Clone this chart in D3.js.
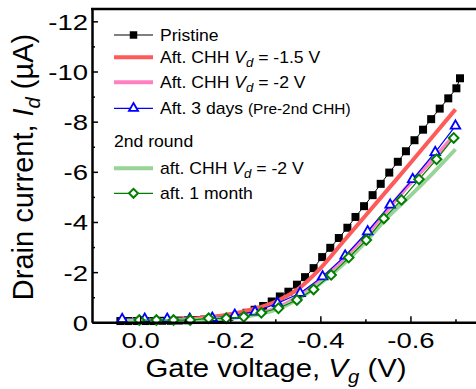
<!DOCTYPE html>
<html>
<head>
<meta charset="utf-8">
<script src="https://cdn.jsdelivr.net/npm/d3@7"></script>
<style>
  body { margin: 0; background: #fff; }
  svg { font-family: "Liberation Sans", Arial, sans-serif; }
</style>
</head>
<body>
<svg id="chart" width="476" height="389"></svg>
<script>
// gate voltage (V) and drain current (uA)
var pristineVg = [0.044, 0.026, 0.007, -0.012, -0.030, -0.049, -0.068, -0.086, -0.105, -0.124, -0.142, -0.161, -0.180, -0.198, -0.217, -0.236, -0.254, -0.273, -0.292, -0.310, -0.329, -0.348, -0.366, -0.385, -0.404, -0.422, -0.441, -0.460, -0.478, -0.497, -0.516, -0.534, -0.553, -0.572, -0.590, -0.609, -0.628, -0.646, -0.665, -0.684, -0.702, -0.71]
var pristineId = [-0.05, -0.05, -0.05, -0.05, -0.05, -0.06, -0.06, -0.07, -0.08, -0.09, -0.11, -0.13, -0.17, -0.22, -0.29, -0.38, -0.5, -0.65, -0.83, -1.03, -1.22, -1.5, -1.8, -2.16, -2.6, -2.97, -3.36, -3.77, -4.2, -4.63, -5.07, -5.52, -5.97, -6.4, -6.82, -7.26, -7.68, -8.1, -8.52, -8.93, -9.33, -9.73]

var chhVg = [0.03, 0, -0.05, -0.1, -0.15, -0.2, -0.25, -0.3, -0.35, -0.4, -0.45, -0.5, -0.55, -0.6, -0.65, -0.7]
var chh15Id = [-0.05, -0.06, -0.08, -0.12, -0.2, -0.32, -0.52, -0.82, -1.32, -2.15, -3.2, -4.25, -5.3, -6.35, -7.42, -8.49]
var chh2Id = [-0.07, -0.07, -0.08, -0.1, -0.13, -0.2, -0.32, -0.55, -1.02, -1.7, -2.5, -3.45, -4.5, -5.55, -6.5, -7.5]
var round2Id = [-0.06, -0.06, -0.07, -0.08, -0.11, -0.17, -0.28, -0.5, -0.92, -1.55, -2.3, -3.2, -4.2, -5.05, -5.95, -6.9]

var daysVg = [0.04, -0.01, -0.06, -0.11, -0.16, -0.21, -0.255, -0.305, -0.355, -0.405, -0.455, -0.505, -0.555, -0.605, -0.655, -0.70]
var daysId = [-0.12, -0.13, -0.13, -0.13, -0.17, -0.29, -0.42, -0.76, -1.16, -1.82, -2.65, -3.62, -4.68, -5.7, -6.78, -7.83]

var monthVg = [0.002, -0.036, -0.074, -0.111, -0.152, -0.191, -0.230, -0.269, -0.307, -0.348, -0.385, -0.424, -0.463, -0.502, -0.541, -0.58, -0.619, -0.658, -0.696]
var monthId = [-0.09, -0.09, -0.09, -0.09, -0.16, -0.16, -0.22, -0.38, -0.56, -0.89, -1.31, -1.89, -2.58, -3.28, -4.14, -4.88, -5.7, -6.5, -7.35]

var xMajor = [0, -0.2, -0.4, -0.6]
var xMinor = [-0.1, -0.3, -0.5, -0.7]
var yMajor = [0, -2, -4, -6, -8, -10, -12]
var yMinor = [-1, -3, -5, -7, -9, -11]

var svg = d3.select("#chart")
var x = d3.scaleLinear().domain([0.107, -0.75]).range([92, 478])
var y = d3.scaleLinear().domain([0, -12.5]).range([322.3, 8.8])

function zip(a, b){ return a.map(function(v, i){ return [v, b[i]] }) }

var line = d3.line().x(d => x(d[0])).y(d => y(d[1]))

// thick smooth lines
function thickLine(vg, id, color){
	svg.append("path").datum(zip(vg, id))
		.attr("d", line.curve(d3.curveMonotoneX))
		.attr("fill", "none").attr("stroke", color).attr("stroke-width", 4)
}

// pristine
svg.append("path").datum(zip(pristineVg, pristineId))
	.attr("d", line.curve(d3.curveLinear))
	.attr("fill", "none").attr("stroke", "#000").attr("stroke-width", 1)
svg.append("g").selectAll("path").data(zip(pristineVg, pristineId)).join("path")
	.attr("transform", d => "translate(" + x(d[0]) + "," + y(d[1]) + ")")
	.attr("d", d3.symbol(d3.symbolSquare, 64)())
	.attr("fill", "#000")

thickLine(chhVg, chh15Id, "#ff5a5a")
thickLine(chhVg, chh2Id, "#ff80c0")

// after 3 days
svg.append("path").datum(zip(daysVg, daysId))
	.attr("d", line.curve(d3.curveLinear))
	.attr("fill", "none").attr("stroke", "#0000ff").attr("stroke-width", 1.2)

thickLine(chhVg, round2Id, "#98d498")

svg.append("g").selectAll("path").data(zip(daysVg, daysId)).join("path")
	.attr("transform", d => "translate(" + x(d[0]) + "," + y(d[1]) + ")")
	.attr("d", d3.symbol(d3.symbolTriangle, 40)())
	.attr("fill", "#fff").attr("stroke", "#0000ff").attr("stroke-width", 1.8)

// after 1 month
svg.append("path").datum(zip(monthVg, monthId))
	.attr("d", line.curve(d3.curveLinear))
	.attr("fill", "none").attr("stroke", "#008000").attr("stroke-width", 1.2)
svg.append("g").selectAll("path").data(zip(monthVg, monthId)).join("path")
	.attr("transform", d => "translate(" + x(d[0]) + "," + y(d[1]) + ") rotate(45)")
	.attr("d", d3.symbol(d3.symbolSquare, 46)())
	.attr("fill", "#fff").attr("stroke", "#008000").attr("stroke-width", 2)

// axes
var xAxis = svg.append("g").attr("transform", "translate(0,322.3)")
	.call(d3.axisBottom(x).tickValues(xMajor).tickSizeInner(-6).tickSizeOuter(0).tickPadding(10)
		.tickFormat(d => d === 0 ? "0.0" : d.toFixed(1)))
svg.append("g").attr("transform", "translate(0,322.3)")
	.call(d3.axisBottom(x).tickValues(xMinor).tickSizeInner(-3).tickSizeOuter(0).tickFormat(""))
	.select(".domain").remove()
var yAxis = svg.append("g").attr("transform", "translate(92,0)")
	.call(d3.axisLeft(y).tickValues(yMajor).tickSizeInner(-6).tickSizeOuter(0).tickPadding(4)
		.tickFormat(d => String(d)))
svg.append("g").attr("transform", "translate(92,0)")
	.call(d3.axisLeft(y).tickValues(yMinor).tickSizeInner(-3).tickSizeOuter(0).tickFormat(""))
	.select(".domain").remove()

svg.selectAll(".domain").attr("stroke-width", 2.5)
svg.selectAll(".tick line").attr("stroke-width", 1.5)
svg.selectAll(".tick text").attr("font-size", 22).attr("font-family", "Liberation Sans, Arial, sans-serif")
	.attr("fill", "#000").attr("transform", "scale(1.25,1)")
yAxis.selectAll(".tick text").attr("dy", "0.36em").attr("x", -3.2)

svg.append("line").attr("x1", 91).attr("x2", 476).attr("y1", 9).attr("y2", 9)
	.attr("stroke", "#000").attr("stroke-width", 2.5)

// axis titles
var xt = svg.append("text").attr("transform", "translate(276,377) scale(1.13,1)")
	.attr("text-anchor", "middle").attr("font-size", 26)
xt.append("tspan").text("Gate voltage, ")
xt.append("tspan").attr("font-style", "italic").text("V")
xt.append("tspan").attr("font-style", "italic").attr("font-size", 18).attr("dy", 6).text("g")
xt.append("tspan").attr("dy", -6).text(" (V)")

var yt = svg.append("text").attr("transform", "translate(33,167) rotate(-90)").attr("text-anchor", "middle").attr("font-size", 29)
yt.append("tspan").text("Drain current, ")
yt.append("tspan").attr("font-style", "italic").text("I")
yt.append("tspan").attr("font-style", "italic").attr("font-size", 20).attr("dy", 7).text("d")
yt.append("tspan").attr("dy", -7).text(" (\u00b5A)")

// legend
var leg = svg.append("g")
function legText(yc, parts){
	var t = leg.append("text").attr("transform", "translate(160," + (yc + 5.7) + ") scale(1.1,1)").attr("font-size", 16)
	parts.forEach(function(p){
		var s = t.append("tspan").text(p.t)
		if(p.i) s.attr("font-style", "italic")
		if(p.sub) s.attr("font-style", "italic").attr("font-size", 12).attr("dy", 4)
		if(p.up) s.attr("dy", -4)
		if(p.small) s.attr("font-size", 14)
	})
}
function legLine(yc, color, w){
	leg.append("line").attr("x1", 114).attr("x2", 153).attr("y1", yc).attr("y2", yc)
		.attr("stroke", color).attr("stroke-width", w)
}
legLine(35, "#000", 1)
leg.append("path").attr("transform", "translate(133.5,35)").attr("d", d3.symbol(d3.symbolSquare, 56)()).attr("fill", "#000")
legText(35, [{t: "Pristine"}])
legLine(57.3, "#ff5a5a", 4)
legText(57.3, [{t: "Aft. CHH "}, {t: "V", i: true}, {t: "d", sub: true}, {t: " = -1.5 V", up: true}])
legLine(82.3, "#ff80c0", 4)
legText(82.3, [{t: "Aft. CHH "}, {t: "V", i: true}, {t: "d", sub: true}, {t: " = -2 V", up: true}])
legLine(108.3, "#0000ff", 1.2)
leg.append("path").attr("transform", "translate(133.5,108.3)").attr("d", d3.symbol(d3.symbolTriangle, 36)())
	.attr("fill", "#fff").attr("stroke", "#0000ff").attr("stroke-width", 1.8)
legText(108.3, [{t: "Aft. 3 days "}, {t: "(Pre-2nd CHH)", small: true}])
leg.append("text").attr("transform", "translate(114,147.2) scale(1.1,1)").attr("font-size", 16).text("2nd round")
legLine(168.3, "#98d498", 4)
legText(168.3, [{t: "aft. CHH "}, {t: "V", i: true}, {t: "d", sub: true}, {t: " = -2 V", up: true}])
legLine(193.3, "#008000", 1.2)
leg.append("path").attr("transform", "translate(133.5,193.3) rotate(45)").attr("d", d3.symbol(d3.symbolSquare, 40)())
	.attr("fill", "#fff").attr("stroke", "#008000").attr("stroke-width", 2)
legText(193.3, [{t: "aft. 1 month"}])
</script>
</body>
</html>
